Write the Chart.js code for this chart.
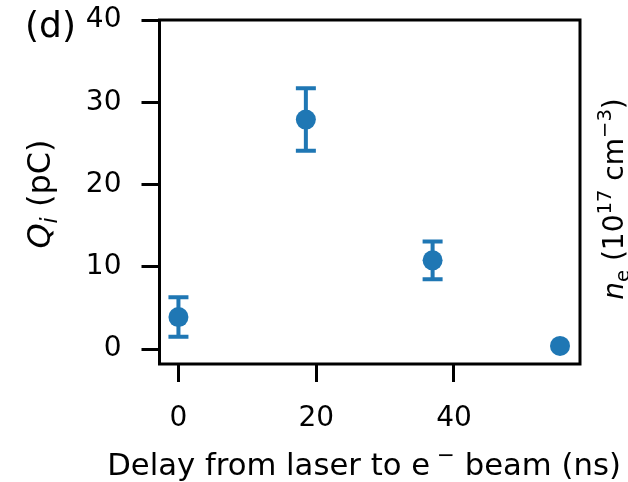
<!DOCTYPE html>
<html>
<head>
<meta charset="utf-8">
<script src="https://cdn.jsdelivr.net/npm/chart.js@4"></script>
<style>
  html, body { margin: 0; padding: 0; background: #fff; }
  canvas { display: block; }
</style>
</head>
<body>
<canvas id="c" width="628" height="482"></canvas>
<script>
// Measured charge vs. delay between laser and electron beam
const delays    = [0, 18.5, 36.9, 55.4];   // ns
const charge    = [3.9, 27.9, 10.8, 0.4];  // pC
const chargeErr = [2.4, 3.8, 2.3, 0];      // pC, symmetric
const xTicks = [0, 20, 40];
const yTicks = [0, 10, 20, 30, 40];

const BLUE = '#1f77b4';
const FONT = 'DejaVu Sans';

// Draw a run of text pieces (italic / subscript / superscript) along a baseline
function drawRich(ctx, segs, size, x, y, angle, align) {
  ctx.save();
  ctx.translate(x, y);
  ctx.rotate(angle);
  ctx.textBaseline = 'alphabetic';
  ctx.textAlign = 'left';
  ctx.fillStyle = '#000';
  let total = 0;
  const parts = segs.map(s => {
    const fs = (s.sub || s.sup) ? size * 0.7 : size;
    const font = (s.it ? 'italic ' : '') + fs + 'px "' + FONT + '"';
    ctx.font = font;
    const w = ctx.measureText(s.t).width;
    total += w;
    return { s, font, w };
  });
  let cx = align === 'center' ? -total / 2 : (align === 'right' ? -total : 0);
  parts.forEach(p => {
    ctx.font = p.font;
    const dy = p.s.sub ? size * 0.22 : (p.s.sup ? -size * 0.42 : 0);
    ctx.fillText(p.s.t, cx, dy);
    cx += p.w;
  });
  ctx.restore();
}

// Vertical error bars with caps, beneath the markers
const errorBars = {
  id: 'errorBars',
  beforeDatasetsDraw(chart) {
    const { ctx, scales: { x, y } } = chart;
    ctx.save();
    ctx.strokeStyle = BLUE;
    ctx.lineWidth = 4;
    ctx.lineCap = 'butt';
    delays.forEach((d, i) => {
      const e = chargeErr[i];
      if (!e) return;
      const px = x.getPixelForValue(d);
      const top = y.getPixelForValue(charge[i] + e);
      const bot = y.getPixelForValue(charge[i] - e);
      ctx.beginPath();
      ctx.moveTo(px, top); ctx.lineTo(px, bot);
      ctx.moveTo(px - 10, top); ctx.lineTo(px + 10, top);
      ctx.moveTo(px - 10, bot); ctx.lineTo(px + 10, bot);
      ctx.stroke();
    });
    ctx.restore();
  }
};

// Axes frame and labels
const frameAndLabels = {
  id: 'frameAndLabels',
  afterDraw(chart) {
    const { ctx, chartArea: a } = chart;
    ctx.save();
    ctx.strokeStyle = '#000';
    ctx.lineWidth = 3;
    ctx.strokeRect(a.left, a.top, a.right - a.left, a.bottom - a.top);
    ctx.restore();

    const midY = (a.top + a.bottom) / 2;
    drawRich(ctx, [
      { t: 'Delay from laser to e' },
      { t: ' \u2212', sup: true },
      { t: ' beam (ns)' }
    ], 30.7, 364, 475, 0, 'center');

    drawRich(ctx, [
      { t: 'Q', it: true },
      { t: 'i', it: true, sub: true },
      { t: ' (pC)' }
    ], 32, 50, midY + 2, -Math.PI / 2, 'center');

    drawRich(ctx, [
      { t: 'n', it: true },
      { t: 'e', sub: true },
      { t: ' (10' },
      { t: '17', sup: true },
      { t: ' cm' },
      { t: '\u22123', sup: true },
      { t: ')' }
    ], 28, 623, midY + 7, -Math.PI / 2, 'center');

    drawRich(ctx, [{ t: '(d)' }], 36, 76, 37, 0, 'right');
  }
};

new Chart(document.getElementById('c'), {
  type: 'scatter',
  data: {
    datasets: [{
      data: delays.map((d, i) => ({ x: d, y: charge[i] })),
      backgroundColor: BLUE,
      borderWidth: 0,
      pointRadius: 10,
      pointHoverRadius: 10
    }]
  },
  options: {
    responsive: false,
    animation: false,
    devicePixelRatio: 1,
    layout: { padding: { top: 20, right: 48, left: 0, bottom: 0 } },
    plugins: { legend: { display: false }, tooltip: { enabled: false } },
    scales: {
      x: {
        type: 'linear',
        min: -2.75,
        max: 58.3,
        afterBuildTicks: s => { s.ticks = xTicks.map(v => ({ value: v })); },
        afterFit: s => { s.height = 118; s.paddingLeft = 0; s.paddingRight = 0; },
        border: { display: false },
        grid: { drawOnChartArea: false, drawTicks: true, tickLength: 18, lineWidth: 3, color: '#000' },
        ticks: { color: '#000', font: { family: FONT, size: 28 }, padding: 20, maxRotation: 0, autoSkip: false }
      },
      y: {
        type: 'linear',
        min: -1.8,
        max: 40,
        afterBuildTicks: s => { s.ticks = yTicks.map(v => ({ value: v })); },
        afterFit: s => { s.width = 159.5; s.paddingTop = 0; s.paddingBottom = 0; },
        border: { display: false },
        grid: { drawOnChartArea: false, drawTicks: true, tickLength: 18, lineWidth: 3, color: '#000' },
        ticks: { color: '#000', font: { family: FONT, size: 28 }, padding: 20, autoSkip: false }
      }
    }
  },
  plugins: [errorBars, frameAndLabels]
});
</script>
</body>
</html>
